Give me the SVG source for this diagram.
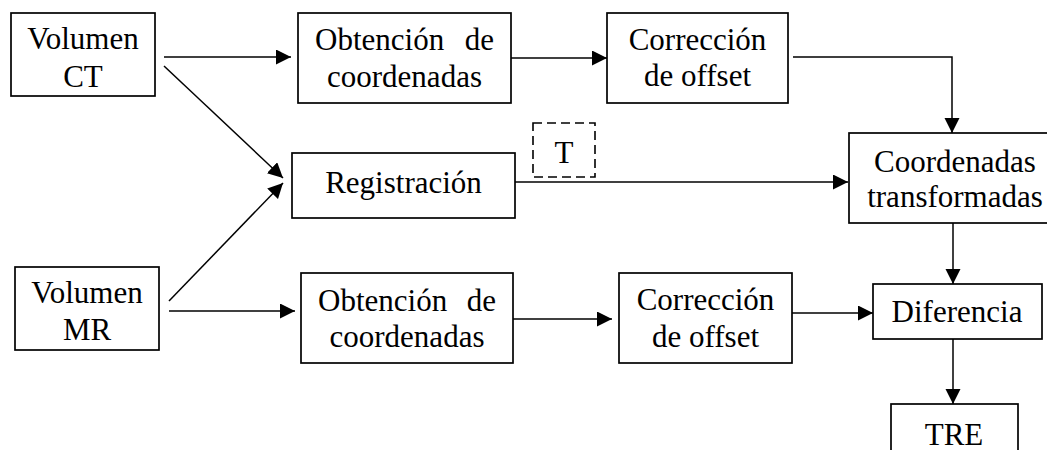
<svg xmlns="http://www.w3.org/2000/svg" width="1047" height="450" viewBox="0 0 1047 450">
<defs>
<marker id="ah" markerUnits="userSpaceOnUse" markerWidth="16" markerHeight="16" refX="15" refY="7.5" orient="auto">
<path d="M0,0 L15,7.5 L0,15 z" fill="#000"/>
</marker>
<style>
.box{fill:#fff;stroke:#000;stroke-width:1.7}
.dash{fill:none;stroke:#000;stroke-width:1.6;stroke-dasharray:9,5}
.t{font-family:"Liberation Serif","Times New Roman","DejaVu Serif",serif;font-size:31px;fill:#000}
.c{text-anchor:middle}
.e{text-anchor:end}
.ln{fill:none;stroke:#000;stroke-width:1.5}
</style>
</defs>
<rect width="1047" height="450" fill="#fff"/>
<g id="connectors">
<line class="ln" x1="164" y1="57" x2="291" y2="57" marker-end="url(#ah)"/>
<line class="ln" x1="164" y1="66" x2="283" y2="178" marker-end="url(#ah)"/>
<line class="ln" x1="169" y1="301" x2="283" y2="183" marker-end="url(#ah)"/>
<line class="ln" x1="169" y1="311" x2="295" y2="311" marker-end="url(#ah)"/>
<line class="ln" x1="511" y1="58" x2="607" y2="58" marker-end="url(#ah)"/>
<polyline class="ln" points="793,57 952,57 952,133" marker-end="url(#ah)"/>
<line class="ln" x1="515" y1="182" x2="848" y2="182" marker-end="url(#ah)"/>
<line class="ln" x1="513" y1="319" x2="612" y2="319" marker-end="url(#ah)"/>
<line class="ln" x1="792" y1="313" x2="873" y2="313" marker-end="url(#ah)"/>
<line class="ln" x1="953" y1="223" x2="953" y2="284" marker-end="url(#ah)"/>
<line class="ln" x1="953" y1="339" x2="953" y2="404" marker-end="url(#ah)"/>
</g>
<g id="volumen-ct">
<rect class="box" x="11" y="13" width="144" height="83"/>
<text class="t c" x="83" y="49">Volumen</text>
<text class="t c" x="83" y="87">CT</text>
</g>
<g id="obtencion-ct">
<rect class="box" x="298" y="13" width="213" height="90"/>
<text class="t" x="315" y="50">Obtención</text>
<text class="t e" x="494" y="50">de</text>
<text class="t c" x="404.5" y="87">coordenadas</text>
</g>
<g id="correccion-ct">
<rect class="box" x="607" y="13" width="181" height="90"/>
<text class="t c" x="697.5" y="50">Corrección</text>
<text class="t c" x="697.5" y="86">de offset</text>
</g>
<g id="registracion">
<rect class="box" x="292" y="153" width="223" height="65"/>
<text class="t c" x="403.5" y="193">Registración</text>
</g>
<g id="t-label">
<rect class="dash" x="533" y="123" width="62" height="54"/>
<text class="t c" x="564" y="163">T</text>
</g>
<g id="coordenadas-transformadas">
<rect class="box" x="849" y="133" width="214" height="90"/>
<text class="t c" x="955" y="172">Coordenadas</text>
<text class="t c" x="955" y="207">transformadas</text>
</g>
<g id="volumen-mr">
<rect class="box" x="15" y="267" width="144" height="83"/>
<text class="t c" x="87" y="303">Volumen</text>
<text class="t c" x="87" y="340">MR</text>
</g>
<g id="obtencion-mr">
<rect class="box" x="301" y="273" width="212" height="90"/>
<text class="t" x="318" y="311">Obtención</text>
<text class="t e" x="496" y="311">de</text>
<text class="t c" x="407" y="347">coordenadas</text>
</g>
<g id="correccion-mr">
<rect class="box" x="619" y="273" width="173" height="90"/>
<text class="t c" x="705.5" y="310">Corrección</text>
<text class="t c" x="705.5" y="347">de offset</text>
</g>
<g id="diferencia">
<rect class="box" x="873" y="284" width="169" height="55"/>
<text class="t c" x="957" y="322">Diferencia</text>
</g>
<g id="tre">
<rect class="box" x="891" y="404" width="127" height="60"/>
<text class="t c" x="954" y="445">TRE</text>
</g>
</svg>
